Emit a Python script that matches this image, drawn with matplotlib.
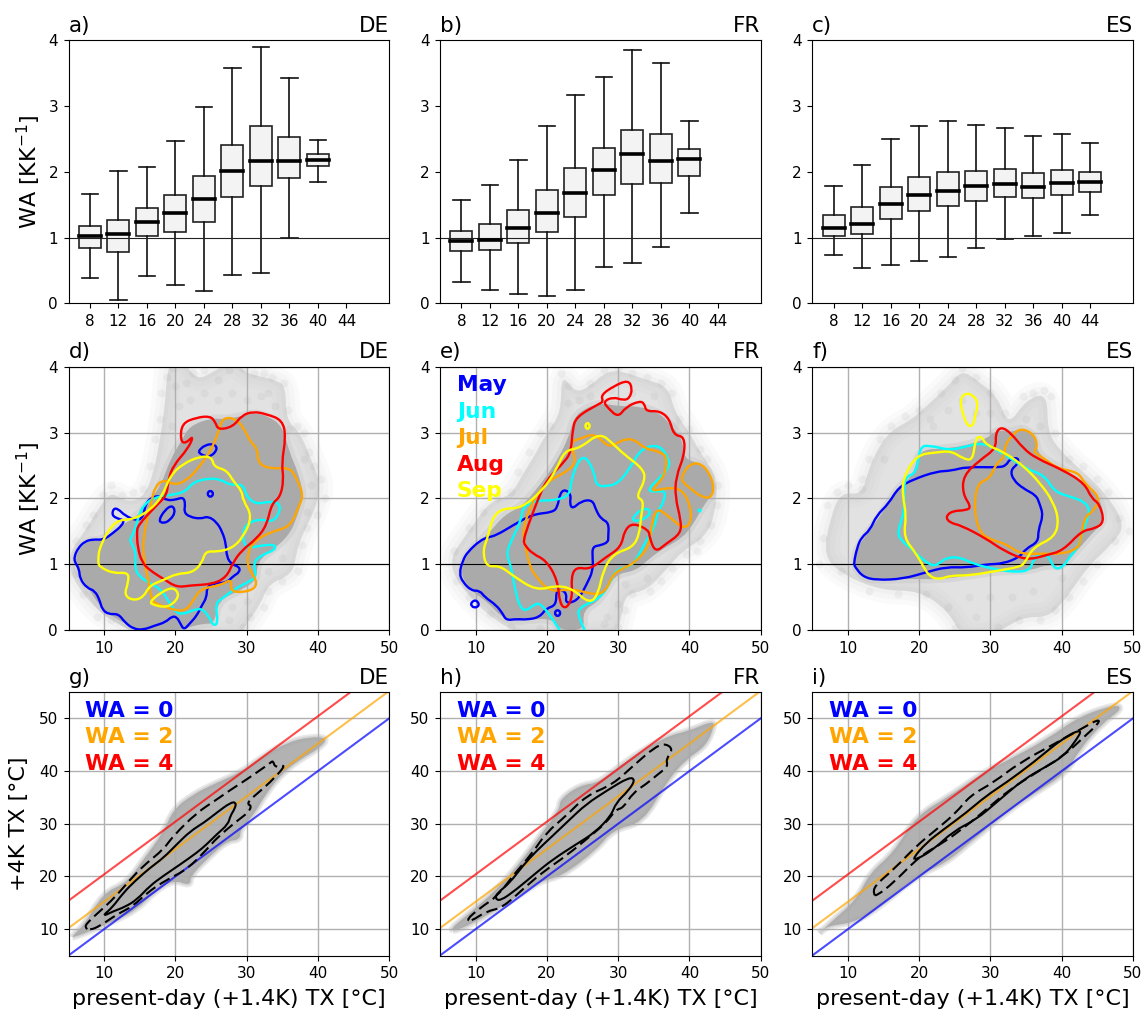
import matplotlib
matplotlib.use("Agg")
import matplotlib.pyplot as plt
from matplotlib.patches import PathPatch
from matplotlib.path import Path

W, H = 1143, 1009

# boxplot data: temperature bin, median, q1, q3, whisker low, whisker high
bins_de = [8, 12, 16, 20, 24, 28, 32, 36, 40]
med_de = [1.02, 1.06, 1.24, 1.37, 1.58, 2.01, 2.17, 2.16, 2.18]
q1_de = [0.85, 0.78, 1.03, 1.09, 1.24, 1.61, 1.79, 1.91, 2.08]
q3_de = [1.18, 1.27, 1.45, 1.64, 1.94, 2.40, 2.69, 2.53, 2.27]
lo_de = [0.38, 0.05, 0.41, 0.28, 0.19, 0.43, 0.46, 0.99, 1.85]
hi_de = [1.66, 2.01, 2.07, 2.46, 2.99, 3.57, 3.90, 3.42, 2.48]

bins_fr = [8, 12, 16, 20, 24, 28, 32, 36, 40]
med_fr = [0.95, 0.97, 1.15, 1.37, 1.68, 2.03, 2.27, 2.17, 2.19]
q1_fr = [0.80, 0.81, 0.92, 1.08, 1.31, 1.64, 1.82, 1.83, 1.94]
q3_fr = [1.10, 1.21, 1.42, 1.72, 2.05, 2.36, 2.63, 2.57, 2.34]
lo_fr = [0.32, 0.21, 0.15, 0.11, 0.20, 0.56, 0.62, 0.86, 1.38]
hi_fr = [1.57, 1.80, 2.18, 2.69, 3.16, 3.44, 3.85, 3.65, 2.77]

bins_es = [8, 12, 16, 20, 24, 28, 32, 36, 40, 44]
med_es = [1.15, 1.21, 1.51, 1.64, 1.71, 1.78, 1.82, 1.77, 1.83, 1.85]
q1_es = [1.03, 1.05, 1.28, 1.40, 1.48, 1.55, 1.61, 1.60, 1.64, 1.70]
q3_es = [1.35, 1.46, 1.77, 1.92, 2.00, 2.01, 2.04, 1.98, 2.02, 2.00]
lo_es = [0.73, 0.54, 0.58, 0.64, 0.71, 0.85, 0.98, 1.02, 1.07, 1.35]
hi_es = [1.78, 2.10, 2.50, 2.70, 2.77, 2.71, 2.67, 2.55, 2.57, 2.44]

d_blue = [(5.8,1.11),(6.3,1.24),(7.3,1.35),(8.5,1.38),(9.9,1.37),(11.3,1.48),(12.5,1.59),(12.8,1.67),(12,1.69),(11.1,1.74),(11.3,1.85),(12,1.84),(12.9,1.74),(14.6,1.66),(15.5,1.72),(15.8,1.92),(16.7,2.02),(17.9,2.04),(18.8,1.97),(20,1.98),(21.1,2.02),(21.4,1.92),(21.2,1.79),(22,1.72),(23.5,1.69),(24.6,1.73),(25.8,1.64),(26.6,1.49),(27.1,1.31),(27.2,1.11),(27.9,1.0),(29,0.96),(29,0.88),(28.1,0.82),(27.2,0.72),(25.3,0.71),(24.4,0.65),(24.4,0.5),(23.7,0.375),(23,0.22),(22,0.1),(21.2,0.005),(20.7,0.1),(20.2,0.2),(19.5,0.21),(18.6,0.12),(17.1,0.07),(15.5,0.005),(14.1,0.02),(12.9,0.12),(12,0.25),(10.6,0.24),(9.7,0.32),(9.4,0.45),(8.7,0.6),(7.6,0.64),(6.6,0.78),(6.5,0.93),(5.9,1.03)]
d_blue2 = [(17.6,1.66),(18.55,1.83),(19.6,1.9),(20,1.79),(19.25,1.67),(18.32,1.62)]
d_blue3 = [(23.3,2.73),(24.16,2.81),(25.33,2.83),(25.95,2.76),(25.09,2.64),(24.16,2.64),(23.3,2.69)]
d_blue4 = [(24.4,2.07),(24.9,2.13),(25.4,2.07),(24.9,2.01)]
d_cyan = [(13.7,1.39),(14.3,1.52),(14.8,1.72),(15.5,1.9),(17.1,2.02),(19.3,2.05),(21.4,2.1),(22.5,2.25),(24.9,2.31),(26.5,2.28),(27.7,2.2),(29.5,2.22),(30,2.02),(31.4,1.91),(33.3,1.96),(34.7,1.92),(34.6,1.77),(33.5,1.64),(31.9,1.69),(30,1.62),(29.4,1.47),(29.8,1.24),(32.3,1.29),(34,1.3),(34,1.22),(32.1,1.14),(30.9,1.03),(31.4,0.81),(30.2,0.73),(28.4,0.63),(26.5,0.48),(25.6,0.4),(26,0.1),(25.3,0.07),(24.9,0.17),(23.9,0.32),(22.8,0.32),(21.1,0.24),(20,0.27),(19,0.45),(17.9,0.63),(16.4,0.71),(15,0.81),(14.3,0.93),(14.5,1.19),(13.6,1.36)]
d_orange = [(17.1,2.17),(18.3,2.29),(20,2.2),(21.6,2.28),(23,2.43),(24.9,2.71),(26,2.99),(26.5,3.19),(27.4,3.23),(28.4,3.2),(29.5,3.09),(30.5,2.86),(31.5,2.76),(31.6,2.53),(33.3,2.45),(36.1,2.47),(37,2.3),(38,2.05),(37.2,1.85),(36.1,1.57),(33.3,1.49),(31.2,1.36),(30.2,1.21),(30.1,0.96),(31.4,0.76),(31.2,0.63),(29.3,0.57),(27.7,0.6),(27.9,0.78),(26.3,0.68),(23.5,0.63),(22.5,0.45),(21.4,0.29),(19.7,0.31),(17.9,0.38),(16.7,0.43),(16.2,0.76),(15.5,1.11),(15.5,1.41),(16.2,1.77),(16.7,1.97)]
d_red = [(14.6,1.47),(14.7,1.59),(17.4,1.9),(18.8,2.05),(19,2.28),(19.7,2.5),(21.8,2.76),(22.6,2.96),(21.4,2.83),(20.7,2.88),(20.9,3.14),(23,3.23),(24.9,3.25),(25.6,3.16),(26,3.04),(28.1,3.09),(29.3,3.26),(30.9,3.32),(32.8,3.28),(35,3.19),(35.5,2.94),(34.9,2.53),(35.2,2.28),(34.7,2.02),(33.5,1.92),(32.8,1.59),(31.4,1.39),(29.3,1.21),(28.1,1.03),(27.2,0.81),(25.3,0.7),(22.1,0.68),(20.2,0.65),(18.3,0.78),(16.4,0.91),(15.3,1.03),(14.7,1.26)]
d_yellow = [(9.1,1.03),(9.4,1.29),(11.5,1.67),(14.1,1.68),(16.4,1.82),(18.1,2.02),(19.3,2.35),(21.1,2.53),(23.5,2.64),(25.1,2.63),(25.4,2.48),(27.2,2.43),(28.2,2.25),(29.3,2.12),(29.5,1.97),(30.8,1.73),(29.5,1.41),(27.9,1.24),(25.8,1.19),(24.2,1.2),(23.7,1.01),(22.3,0.87),(20.2,0.86),(18.3,0.76),(16.4,0.68),(15.5,0.5),(14.1,0.45),(12.8,0.53),(13.4,0.73),(13.4,0.88),(11.3,0.86),(9.4,0.96)]
d_yellow2 = [(16.3,0.42),(17.9,0.57),(19.7,0.66),(20.6,0.53),(19.5,0.38),(18.3,0.35),(17.1,0.38)]

e_blue = [(7.7,0.86),(8.2,1.06),(8.9,1.19),(10.6,1.36),(11.7,1.41),(12.9,1.44),(15.2,1.59),(18,1.76),(20.8,1.79),(21.5,1.87),(21.8,2.07),(22.5,2.14),(23.4,2.06),(23.2,1.92),(23.6,1.84),(24.8,1.96),(26.4,1.98),(26.9,1.82),(27.6,1.69),(28.7,1.63),(28.6,1.41),(28.6,1.34),(27.6,1.29),(26.4,1.27),(26.4,1.11),(26.5,0.91),(25.5,0.68),(24.6,0.5),(23.6,0.42),(22.6,0.42),(22.8,0.55),(22,0.62),(21.3,0.6),(21.3,0.38),(19.9,0.33),(19,0.2),(17.3,0.16),(15.7,0.17),(14.3,0.15),(13.8,0.25),(12.9,0.38),(11.3,0.5),(10.6,0.6),(9.4,0.6),(8.2,0.73)]
e_blue2 = [(9.2,0.4),(10,0.47),(10.6,0.38),(9.8,0.33)]
e_blue3 = [(21,0.26),(21.5,0.32),(22,0.26),(21.5,0.2)]
e_cyan = [(21.8,0),(20.8,0.17),(19.2,0.4),(18.3,0.4),(17.1,0.29),(16.2,0.35),(15.5,0.63),(15,0.96),(14.3,1.16),(15,1.36),(16.4,1.67),(16.6,1.87),(18.5,1.97),(21.3,1.97),(23.2,2.05),(23.4,2.28),(24.4,2.58),(25.5,2.64),(26.7,2.38),(26.9,2.2),(28.3,2.18),(30,2.23),(31.6,2.45),(33.2,2.76),(35.8,2.82),(37.1,2.6),(37.2,2.48),(36,2.33),(34,2.12),(35.3,2.1),(36.7,2.12),(36.3,1.92),(35.6,1.82),(35.1,1.57),(34.2,1.41),(33,1.16),(31.8,0.96),(29.7,0.93),(28.8,0.7),(27.4,0.48),(24.6,0.35),(24.3,0.22),(25.3,0)]
e_cyan2 = [(31.8,1.68),(33.2,1.84),(34.5,1.84),(34.3,1.73),(32.8,1.65)]
e_orange = [(16.9,1.31),(17.6,0.96),(18.5,0.81),(20.4,0.58),(23.6,0.63),(26.9,0.53),(28.3,0.6),(29.3,0.86),(31.1,0.96),(32.1,1.01),(34.2,1.24),(34.6,1.52),(35.3,1.87),(37.2,1.72),(39.1,1.54),(40.2,1.62),(40.2,1.87),(39.1,2.12),(37.4,2.17),(35.3,2.12),(34.7,2.13),(36.5,2.33),(36.9,2.63),(35.8,2.71),(33.7,2.76),(32.5,2.88),(31.1,2.91),(29.7,2.83),(28.6,2.78),(26.7,2.99),(24.8,2.91),(23.2,2.86),(24.1,2.58),(23.2,2.43),(20.4,2.28),(19,2.12),(17.8,1.92),(16.6,1.52)]
e_orange2 = [(38.9,2.33),(39.8,2.5),(41.2,2.55),(42.6,2.43),(43.5,2.18),(43,2),(41.6,2.03),(40.5,2.12),(39,2.25)]
e_red = [(16.7,1.36),(17.3,1.57),(18.5,1.92),(19.9,2.28),(22.7,2.58),(23.4,2.73),(23.6,3.04),(24.1,3.24),(27.4,3.44),(27.9,3.47),(27.6,3.57),(29.3,3.7),(31.4,3.8),(32,3.67),(31.6,3.52),(30.7,3.49),(29.3,3.54),(27.9,3.47),(28.6,3.37),(30,3.23),(31.1,3.39),(33,3.48),(33.7,3.44),(33.9,3.32),(35.8,3.33),(37.2,3.21),(37.8,2.96),(39.3,2.94),(39.3,2.66),(38.1,2.33),(38,2.02),(38.8,1.67),(38.8,1.47),(36.7,1.31),(35.2,1.18),(34.4,1.41),(34.3,1.52),(32.1,1.63),(30.9,1.52),(30.4,1.26),(28.3,1.11),(26,0.92),(24.1,0.96),(23.4,0.81),(23.6,0.5),(22.7,0.32),(21.8,0.4),(21.5,0.76),(19.9,1.06),(18,1.16),(16.9,1.29)]
e_yellow = [(11.5,0.96),(11,1.21),(11.7,1.41),(12.4,1.72),(13.8,1.85),(16.4,1.85),(19.4,2.12),(21.3,2.43),(22.5,2.73),(24.6,2.76),(27.4,3.0),(29.3,2.83),(30.7,2.68),(33.5,2.45),(33.8,2.28),(32.5,2.02),(33.6,1.97),(33.2,1.72),(33,1.47),(32.1,1.26),(29.3,1.16),(27.9,0.91),(27.2,0.55),(26,0.4),(23.6,0.63),(21.3,0.68),(18.5,0.6),(15.2,0.83),(13.4,0.98)]
e_yellow2 = [(25.3,3.1),(25.7,3.16),(26.1,3.1),(25.7,3.04)]

f_blue = [(10.8,1.01),(11.3,1.26),(11.9,1.41),(13.1,1.52),(14,1.74),(15.7,1.92),(17.1,2.17),(19.2,2.29),(22.4,2.41),(24.5,2.42),(26.6,2.48),(31.2,2.47),(32.2,2.5),(32.7,2.6),(33.9,2.62),(33.9,2.53),(32.8,2.43),(33.2,2.28),(34.6,2.15),(36.4,2.05),(36.9,1.92),(37.4,1.74),(36.7,1.52),(36.7,1.34),(35,1.24),(34.1,1.11),(31.8,1.01),(29.4,1),(26.6,0.95),(23.8,0.96),(21,0.88),(17.8,0.78),(14,0.76),(12.1,0.81),(11,0.96)]
f_cyan = [(16.9,1.48),(18,1.82),(17.8,2.02),(18,2.33),(19.6,2.38),(20.1,2.78),(21.3,2.81),(24.3,2.73),(26.6,2.79),(29,2.85),(31.8,2.68),(35,2.45),(37.6,2.35),(39,2.1),(41.4,2.02),(43.2,1.95),(44,1.82),(43.2,1.57),(42.3,1.26),(41.1,1.11),(40.2,0.96),(39,0.92),(38.1,1.14),(36.9,1.16),(36,1.06),(35.5,0.91),(33.6,0.88),(30.8,0.92),(27.5,1.01),(25.7,1.11),(23.8,1.1),(22.9,1.02),(22,0.97),(20.6,1.06),(18.9,1.24),(17.5,1.36)]
f_orange = [(28.5,1.47),(27.7,1.82),(28.1,2.23),(29.9,2.3),(30.8,2.53),(32,2.63),(32,2.81),(33.4,3.01),(34.6,3.06),(36.2,2.96),(36.6,2.78),(36,2.71),(37.2,2.63),(39.5,2.45),(42.3,2.4),(43.2,2.23),(45.4,2.02),(44.6,1.82),(43.2,1.72),(42.8,1.44),(42.3,1.24),(40.2,1.16),(36.9,1.16),(34.1,1.16),(32.2,1.31),(30.4,1.36)]
f_red = [(23.7,1.72),(24.6,1.81),(26.6,1.82),(27.3,1.87),(26.1,2.07),(26.2,2.35),(28.5,2.58),(30.8,2.76),(30.7,2.99),(31.5,3.09),(32.9,2.99),(34.6,2.76),(36.4,2.61),(40.2,2.43),(43.2,2.23),(44.2,2),(45.3,1.92),(46,1.64),(44.6,1.54),(42.8,1.51),(40.2,1.21),(37.9,1.14),(35,1.06),(31.8,1.21),(29.4,1.39),(25.9,1.59),(24.3,1.63)]
f_yellow = [(17.8,1.41),(18.2,1.75),(17.7,2.02),(17.7,2.3),(19.6,2.66),(22.4,2.7),(24.5,2.72),(26.1,2.61),(27.5,2.57),(27.9,2.91),(28.7,2.95),(29.4,2.81),(31.8,2.71),(34.6,2.5),(37,2.23),(38.8,1.95),(39.6,1.67),(39,1.41),(36,1.26),(34.8,1.02),(34.1,0.96),(30.8,0.9),(27.1,0.83),(24.3,0.83),(22.9,0.77),(21.5,0.81),(20.6,0.96),(19.6,1.16)]
f_yellow2 = [(25.7,3.49),(26.4,3.6),(27.6,3.57),(28.3,3.44),(27.8,3.24),(27.6,3.11),(26.9,3.09),(26.2,3.24)]

# grey clouds of the middle row: dense part, outer faint part, single points at the rim
d_core = [(5.8,1.1),(7.3,1.35),(9.9,1.37),(12.5,1.6),(14.5,1.72),(16,1.9),(18,2.2),(19.3,2.6),(21,2.9),(22,3.1),(25,3.22),(27,3.2),(29.3,3.25),(31,3.3),(33,3.25),(35,3.1),(36,2.7),(37.2,2.4),(38,2.05),(37,1.7),(36,1.45),(34,1.25),(31.5,1.05),(31.4,0.75),(29,0.6),(26,0.45),(25.5,0.1),(24,0.1),(22,0.05),(21,0),(15,0),(13,0.1),(11,0.22),(9.5,0.35),(8,0.6),(6.5,0.85)]
d_halo = [(5.5,1.25),(7,1.45),(9.5,1.9),(11,2.1),(13,1.95),(15.5,2.0),(17,2.4),(18,3.0),(18.5,3.4),(19,4.1),(21,4.1),(23,3.8),(25,3.9),(28,4.1),(30,3.9),(32,3.85),(34,3.8),(35.5,3.7),(35.5,3.2),(37.5,3.0),(39,2.6),(40.5,2.2),(39.5,1.8),(38,1.5),(37,1.2),(36.5,0.85),(33,0.7),(32,0.4),(30,0.1),(29,-0.1),(15,-0.1),(12,0.1),(9,0.3),(6,0.7),(5,1)]
d_pts = [(6,1.35),(7.5,1.6),(8.5,1.75),(9.8,2.05),(11,2.2),(12.5,2.05),(14,2.1),(15.5,2.15),(16.5,2.5),(17.2,2.9),(17.8,3.2),(18,3.6),(18.8,3.85),(19.7,3.98),(21.5,3.75),(22.5,3.9),(24,3.95),(26,3.8),(27.5,3.95),(29.5,3.98),(31,3.9),(32.5,3.9),(33.5,3.85),(35.3,3.75),(35.8,3.35),(37,3.1),(38,3.0),(38.8,2.7),(39.5,2.5),(40.5,2.3),(41,2),(39.8,1.75),(38.5,1.55),(37.8,1.3),(37.2,0.9),(35,0.75),(33,0.6),(32.5,0.35),(30.5,0.2),(29.5,0.05),(27.5,0.15),(11,0.15),(9,0.2),(7,0.55),(5.8,0.85),(20,3.7),(20.5,3.4),(19.5,3.1),(22,3.5),(24,3.6),(26,3.5),(28,3.6),(30,3.5),(32,3.55),(34,3.4),(33,3.6),(36,3.05),(38,2.6),(39,2.2),(38.5,1.8),(35,1.1),(33,0.9),(30,0.45),(28,0.35)]

e_core = [(7.7,0.86),(9,1.2),(11.7,1.45),(14,1.75),(16.5,1.88),(19,2.2),(21,2.5),(23,2.9),(23.7,3.2),(25,3.35),(27.5,3.45),(30,3.4),(33,3.4),(35.8,3.3),(37.5,3.1),(39,2.9),(39.3,2.6),(41,2.55),(43,2.4),(43.5,2.1),(42,1.9),(40.5,1.6),(39,1.4),(36.5,1.25),(34.5,1.1),(32.5,0.9),(29.5,0.85),(27.5,0.45),(25,0.3),(25.3,0),(21.8,0),(21,0.15),(19,0.18),(14.3,0.12),(11.5,0.45),(9.5,0.58)]
e_halo = [(6.5,1.1),(8,1.35),(10,1.65),(12,1.95),(15,2.05),(16.5,2.35),(18,2.6),(20,3),(22,3.3),(22,3.9),(24,3.6),(26,3.7),(28,3.9),(30,3.95),(34,3.8),(37,3.7),(38,3.3),(40,3),(41.5,2.7),(44,2.3),(43.5,1.7),(42,1.4),(39,1.2),(37,0.95),(34,0.6),(31,0.55),(30.5,0.2),(29.5,-0.1),(18,-0.1),(14,0.05),(10,0.4),(7,0.8)]
e_pts = [(7,1.2),(9,1.55),(11,1.8),(13,2.0),(15,2.1),(16,2.4),(17.5,2.7),(19,3.0),(20.5,3.1),(22,3.9),(23,3.7),(24.5,3.5),(26,3.75),(28,3.95),(30,3.98),(32,3.9),(34,3.85),(36,3.75),(37.5,3.6),(38.5,3.2),(40,3.05),(41.5,2.75),(42.5,2.6),(44,2.2),(43.8,1.9),(43,1.6),(41.5,1.35),(39.5,1.15),(37.5,0.95),(36,0.75),(34.5,0.6),(32,0.55),(31,0.3),(30,0.05),(19,0.03),(15,0.05),(12,0.25),(9,0.5),(7.2,0.75),(23,3.45),(26,3.55),(29,3.65),(32,3.6),(35,3.55),(38,3.1),(34,0.8),(31,0.7),(30,0.4),(28.5,0.2),(28,0.1),(41,1.2)]

f_core = [(10.8,1.0),(11.3,1.26),(13.1,1.52),(15.7,1.92),(17.1,2.17),(19.2,2.35),(20,2.75),(24,2.75),(29,2.87),(31,3.05),(33,3.0),(34.5,3.08),(36.2,2.95),(36.7,2.65),(40,2.45),(43,2.25),(45.4,2.02),(46,1.64),(44.5,1.5),(42.5,1.25),(40,0.95),(38,1.0),(35.5,0.9),(31,0.9),(27,0.83),(23,0.77),(17.8,0.78),(14,0.76),(12,0.81)]
f_halo = [(6.5,1.1),(7.5,1.7),(9,2.1),(12,2.05),(13,2.5),(15.5,3),(19,3.2),(21,3.4),(24,3.7),(26,3.95),(28,3.8),(31,3.55),(32.5,3.1),(35,3.5),(38,3.6),(38,3),(40,2.7),(43,2.4),(46,2.1),(49,1.6),(47,1.3),(44,1.0),(42,0.7),(40,0.4),(38,0.2),(35,0.2),(33,0.1),(30,-0.1),(26,-0.1),(24,0.3),(20,0.6),(15,0.6),(10,0.8)]
f_pts = [(6.5,1.4),(7,1.9),(8.5,2.1),(10,2.2),(12,2.15),(13,2.6),(14.5,2.9),(16,3.1),(18,3.25),(20,3.35),(21.5,3.2),(23,3.6),(25,3.8),(26,3.98),(28,3.85),(30,3.6),(32,3.3),(34.5,3.55),(36,3.6),(37.5,3.65),(38.5,3.55),(39,3.0),(41,2.6),(43,2.5),(45,2.3),(46.5,2.1),(48,1.7),(49.5,1.5),(47.5,1.35),(45,1.0),(43,0.75),(41,0.5),(39,0.3),(37,0.15),(34,0.15),(31,0.05),(28,0.2),(25,0.03),(24,0.35),(21,0.55),(17,0.55),(13,0.6),(9,0.9),(6,1),(22,3.1),(24,3.35),(26,3.5),(28,3.3),(30,3.3),(35,3.2),(37,3.1),(15,2.6),(12,2.3),(30,0.5),(33,0.5),(36,0.6),(27,0.5),(40,0.8)]

# bottom row contours, (present-day TX, +4K TX)
g_solid = [(10,12.8),(11.1,14.05),(12.7,16.9),(14.3,19.1),(16.4,21.6),(18.3,23.5),(20.2,26.1),(22.1,28.6),(24,30.2),(25.8,32.1),(27.7,34),(28.5,34.1),(28.4,33),(27.7,31.5),(27.4,29.9),(25.8,28),(24.4,26.1),(23,24.5),(20.7,22.3),(18.3,20.1),(16.4,18.2),(14.6,15.6),(12.9,14.2),(11.3,13.4),(10.1,12.6)]
g_dash = [(7.3,10.25),(7.6,11.2),(9.4,13.4),(11.5,16),(14.1,20.1),(16,22.6),(18.3,25.1),(19.7,27.7),(23,32.1),(25.8,34.6),(27.7,36.4),(30,38.4),(33.3,41.5),(33.7,42),(34,40.6),(35.6,41.3),(33.7,38.4),(31.9,36.2),(30.5,34.6),(30.1,33.7),(30.7,33.4),(30.2,32.1),(28.6,30.5),(25.8,27.3),(24.4,25.1),(21.6,21.3),(18.8,19.4),(16,16.9),(14.1,14.4),(11.8,12.8),(9.4,10.6),(8,9.8)]
h_solid = [(12.7,15.9),(13.1,16.9),(14.8,18.8),(16.6,22),(18.5,24.8),(20.8,27.7),(23.2,30.8),(25.5,33.7),(28.3,36.2),(31.6,38.9),(32.4,38.3),(31.4,36.2),(29.7,34),(29,31.5),(26.7,28.3),(24.1,26.1),(20.8,23.2),(18.5,20.7),(15.7,17.5),(13.4,15.3)]
h_dash = [(8.7,11.8),(10.6,14),(13.1,16.3),(15.2,20.1),(18,24.5),(19.9,28.3),(22.7,31.5),(25.5,35.3),(29.3,37.5),(32.1,41),(35.3,44.7),(36.7,45.2),(37.7,44.1),(36.7,42.2),(37,40.9),(35.6,39.4),(33.9,37.5),(32.1,35.9),(30.7,33),(29.7,32.7),(28.3,30.2),(26.4,28),(22.7,23.9),(19.9,21.3),(17.1,18.2),(13.8,14.05),(11.5,13.4),(9.4,11.5)]
i_solid = [(19.1,23.4),(21,26.4),(23.4,28.9),(26.6,32.1),(29.4,35.3),(32.2,37.8),(36,41.6),(40.2,46.3),(43,48.1),(41.8,45.4),(40.2,42.8),(37.9,40.9),(34.6,38.4),(30.8,34),(28,30.8),(24.8,28.6),(22,25.1),(19.6,23.2)]
i_dash = [(13.6,16.6),(13.7,18.2),(16.4,21.3),(19.6,25.8),(22.4,28.9),(25.2,32.1),(27.1,35.3),(30.4,37.8),(34.1,41.6),(39.3,45.4),(43,48.2),(45.1,49.8),(45.3,49.2),(43,46.3),(40.2,42.8),(36.4,39.7),(32.7,36.5),(29.4,32.7),(26.6,29.6),(23.4,26.4),(20.1,23.9),(16.4,18.8),(14,16.3)]

g_core = [(5.5,8.7),(7.1,10.6),(9.9,16.9),(13.2,18.8),(15.5,23.2),(18.3,28.3),(19.7,32.7),(22.5,35.6),(25.8,37.8),(29.1,39.7),(32.3,42.8),(35.6,45.4),(38.9,46.5),(41.4,46.3),(40.3,44.4),(37.5,42.2),(35.1,39.7),(32.8,35.9),(30.9,31.5),(29.1,28.9),(29.1,27),(27.2,26.7),(24.9,23.9),(22.1,20.1),(22.1,18.2),(19.7,19.4),(16.9,16.9),(14.6,13.7),(11.8,11.8),(8.5,9.9),(5.7,8.4)]
h_core = [(6.4,10),(8.7,12.5),(13,17.5),(16.6,23.2),(19,27.7),(21.8,32.7),(21.8,34.6),(24.6,37.3),(27.4,37.8),(30.7,41.6),(36.7,46.6),(39.9,47.6),(43.2,49.5),(43.5,48.5),(42.3,44.7),(39.5,42.2),(36.7,37.8),(33.5,30.2),(29.3,28.9),(27,25.1),(22.2,20.1),(19,19.1),(15.2,15.6),(11.5,12.5),(7.3,9.6)]
i_core = [(5.6,8.7),(7.5,11.2),(11.2,15.6),(13.1,20.7),(16.4,24.5),(19.6,31.5),(24.3,35.3),(29,39.7),(31.8,41.6),(37.9,46),(42.5,50.4),(47.7,52.7),(48.4,51.7),(45.8,49.2),(42.5,44.1),(40.7,39.7),(36.4,35.9),(32.7,32.7),(27.1,26.4),(23.8,22.6),(19.6,20.1),(14,13.7),(10.7,11.2),(7,10.6)]

month_names = ["May", "Jun", "Jul", "Aug", "Sep"]
month_colors = ["blue", "cyan", "orange", "red", "yellow"]
wa_levels = [0, 2, 4]
wa_colors = ["blue", "orange", "red"]
wa_scale = 2.6  # K of extra warming per unit WA
tx_ends = [5, 50]

box_tables = [
    (bins_de, med_de, q1_de, q3_de, lo_de, hi_de),
    (bins_fr, med_fr, q1_fr, q3_fr, lo_fr, hi_fr),
    (bins_es, med_es, q1_es, q3_es, lo_es, hi_es),
]
countries = ["DE", "FR", "ES"]

middle = [
    (d_halo, d_core, d_pts, [[d_blue, d_blue2, d_blue3, d_blue4], [d_cyan], [d_orange], [d_red], [d_yellow, d_yellow2]]),
    (e_halo, e_core, e_pts, [[e_blue, e_blue2, e_blue3], [e_cyan, e_cyan2], [e_orange, e_orange2], [e_red], [e_yellow, e_yellow2]]),
    (f_halo, f_core, f_pts, [[f_blue], [f_cyan], [f_orange], [f_red], [f_yellow, f_yellow2]]),
]
bottom = [(g_core, g_solid, g_dash), (h_core, h_solid, h_dash), (i_core, i_solid, i_dash)]

lefts = [68.5, 440.0, 812.3]
tops = [40.0, 366.7, 692.0]
ax_w = 320.7
ax_h = 263.5
TICK = 11
TITLE = 15.5
LABEL = 16

plt.rcParams["font.size"] = TICK


# the read points act as control points of a quadratic curve, so lines stay round
def curve(pts, closed=True):
    mid = lambda a, b: ((a[0] + b[0]) / 2, (a[1] + b[1]) / 2)
    if closed:
        verts = [mid(pts[-1], pts[0])]
        codes = [Path.MOVETO]
        seq = list(pts) + [pts[0]]
        for a, b in zip(seq[:-1], seq[1:]):
            verts += [a, mid(a, b)]
            codes += [Path.CURVE3, Path.CURVE3]
    else:
        verts = [pts[0]]
        codes = [Path.MOVETO]
        for a, b in zip(pts[1:-1], pts[2:]):
            verts += [a, mid(a, b) if b != pts[-1] else b]
            codes += [Path.CURVE3, Path.CURVE3]
    return Path(verts, codes)


def soft_fill(ax, pts, color, alpha, strokes, zorder):
    ax.add_patch(PathPatch(curve(pts), fc=color, ec="none", alpha=alpha, zorder=zorder))
    for lw, a in strokes:
        ax.add_patch(PathPatch(curve(pts), fc="none", ec=color, lw=lw, alpha=a, zorder=zorder))


def draw_line(ax, pts, color, lw, zorder, ls="-", closed=True):
    ax.add_patch(PathPatch(curve(pts, closed), fc="none", ec=color, lw=lw, ls=ls, zorder=zorder, joinstyle="round"))


fig = plt.figure(figsize=(W / 100, H / 100), dpi=100)
axes = []
for r in range(3):
    for c in range(3):
        ax = fig.add_axes([lefts[c] / W, 1 - (tops[r] + ax_h) / H, ax_w / W, ax_h / H])
        ax.set_title("abcdefghi"[3 * r + c] + ")", loc="left", fontsize=TITLE)
        ax.set_title(countries[c], loc="right", fontsize=TITLE)
        ax.tick_params(labelsize=TICK, pad=4)
        axes.append(ax)

# top row: boxplots
for c, (bins, med, q1, q3, lo, hi) in enumerate(box_tables):
    ax = axes[c]
    stats = [dict(med=med[i], q1=q1[i], q3=q3[i], whislo=lo[i], whishi=hi[i], fliers=[]) for i in range(len(bins))]
    ax.bxp(stats, positions=bins, widths=3.1, capwidths=2.3, patch_artist=True, showfliers=False,
           boxprops=dict(facecolor="#f3f3f3", edgecolor="#222222", linewidth=1.2),
           medianprops=dict(color="black", linewidth=2.6, solid_capstyle="projecting"),
           whiskerprops=dict(color="#111111", linewidth=1.2),
           capprops=dict(color="#111111", linewidth=1.2))
    ax.axhline(1, color="#222222", lw=0.8)
    ax.set_xlim(5, 50)
    ax.set_ylim(0, 4)
    ax.set_xticks([8, 12, 16, 20, 24, 28, 32, 36, 40, 44])
    ax.set_xticklabels(["8", "12", "16", "20", "24", "28", "32", "36", "40", "44"])
    ax.set_yticks([0, 1, 2, 3, 4])
axes[0].set_ylabel("WA [KK$^{-1}$]", fontsize=LABEL)

# middle row: clouds and monthly contours
for c, (halo, core, pts, lines) in enumerate(middle):
    ax = axes[3 + c]
    ax.grid(True, color="#b0b0b0", lw=1, zorder=0)
    ax.set_axisbelow(True)
    soft_fill(ax, halo, "#b0b0b0", 0.36, [(20, 0.05), (13, 0.06), (6, 0.07)], 1)
    ax.scatter([p[0] for p in pts], [p[1] for p in pts], s=33, color="gray", alpha=0.08, lw=0, zorder=1)
    soft_fill(ax, core, "#aaaaaa", 1.0, [(6, 0.2)], 2)
    ax.axhline(1, color="black", lw=0.8, zorder=3)
    for color, group in zip(month_colors, lines):
        for line in group:
            draw_line(ax, line, color, 1.7, 4, closed=line is not e_cyan)
    ax.set_xlim(5, 50)
    ax.set_ylim(0, 4)
    ax.set_xticks([10, 20, 30, 40, 50])
    ax.set_yticks([0, 1, 2, 3, 4])
axes[3].set_ylabel("WA [KK$^{-1}$]", fontsize=LABEL)
# the tiny cyan dot in panel e
axes[4].plot([41.3], [1.82], "o", color="cyan", ms=2, zorder=4)
for i, name in enumerate(month_names):
    axes[4].text(0.053, 0.93 - 0.1005 * i, name, transform=axes[4].transAxes, color=month_colors[i],
                 fontsize=15.7, fontweight="bold", va="center", zorder=5)

# bottom row: warming scatter
for c, (core, solid, dash) in enumerate(bottom):
    ax = axes[6 + c]
    ax.grid(True, color="#b0b0b0", lw=1, zorder=0)
    ax.set_axisbelow(True)
    soft_fill(ax, core, "#aaaaaa", 0.9, [(5, 0.25), (2.5, 0.3)], 1)
    for wa, color in zip(wa_levels, wa_colors):
        ax.plot(tx_ends, [t + wa * wa_scale for t in tx_ends], color=color, alpha=0.7, lw=1.5, zorder=2)
    draw_line(ax, solid, "black", 1.5, 3)
    draw_line(ax, dash, "black", 1.5, 3, ls=(0, (5.5, 2.5)))
    for i, wa in enumerate(wa_levels):
        ax.text(0.052, 0.929 - 0.1005 * i, f"WA = {wa}", transform=ax.transAxes, color=wa_colors[i],
                fontsize=15.7, fontweight="bold", va="center", zorder=5)
    ax.set_xlim(5, 50)
    ax.set_ylim(5, 55)
    ax.set_xticks([10, 20, 30, 40, 50])
    ax.set_yticks([10, 20, 30, 40, 50])
    ax.set_xlabel("present-day (+1.4K) TX [°C]", fontsize=LABEL, labelpad=6)
axes[6].set_ylabel("+4K TX [°C]", fontsize=LABEL, labelpad=7)

fig.savefig("out.png", dpi=100)
